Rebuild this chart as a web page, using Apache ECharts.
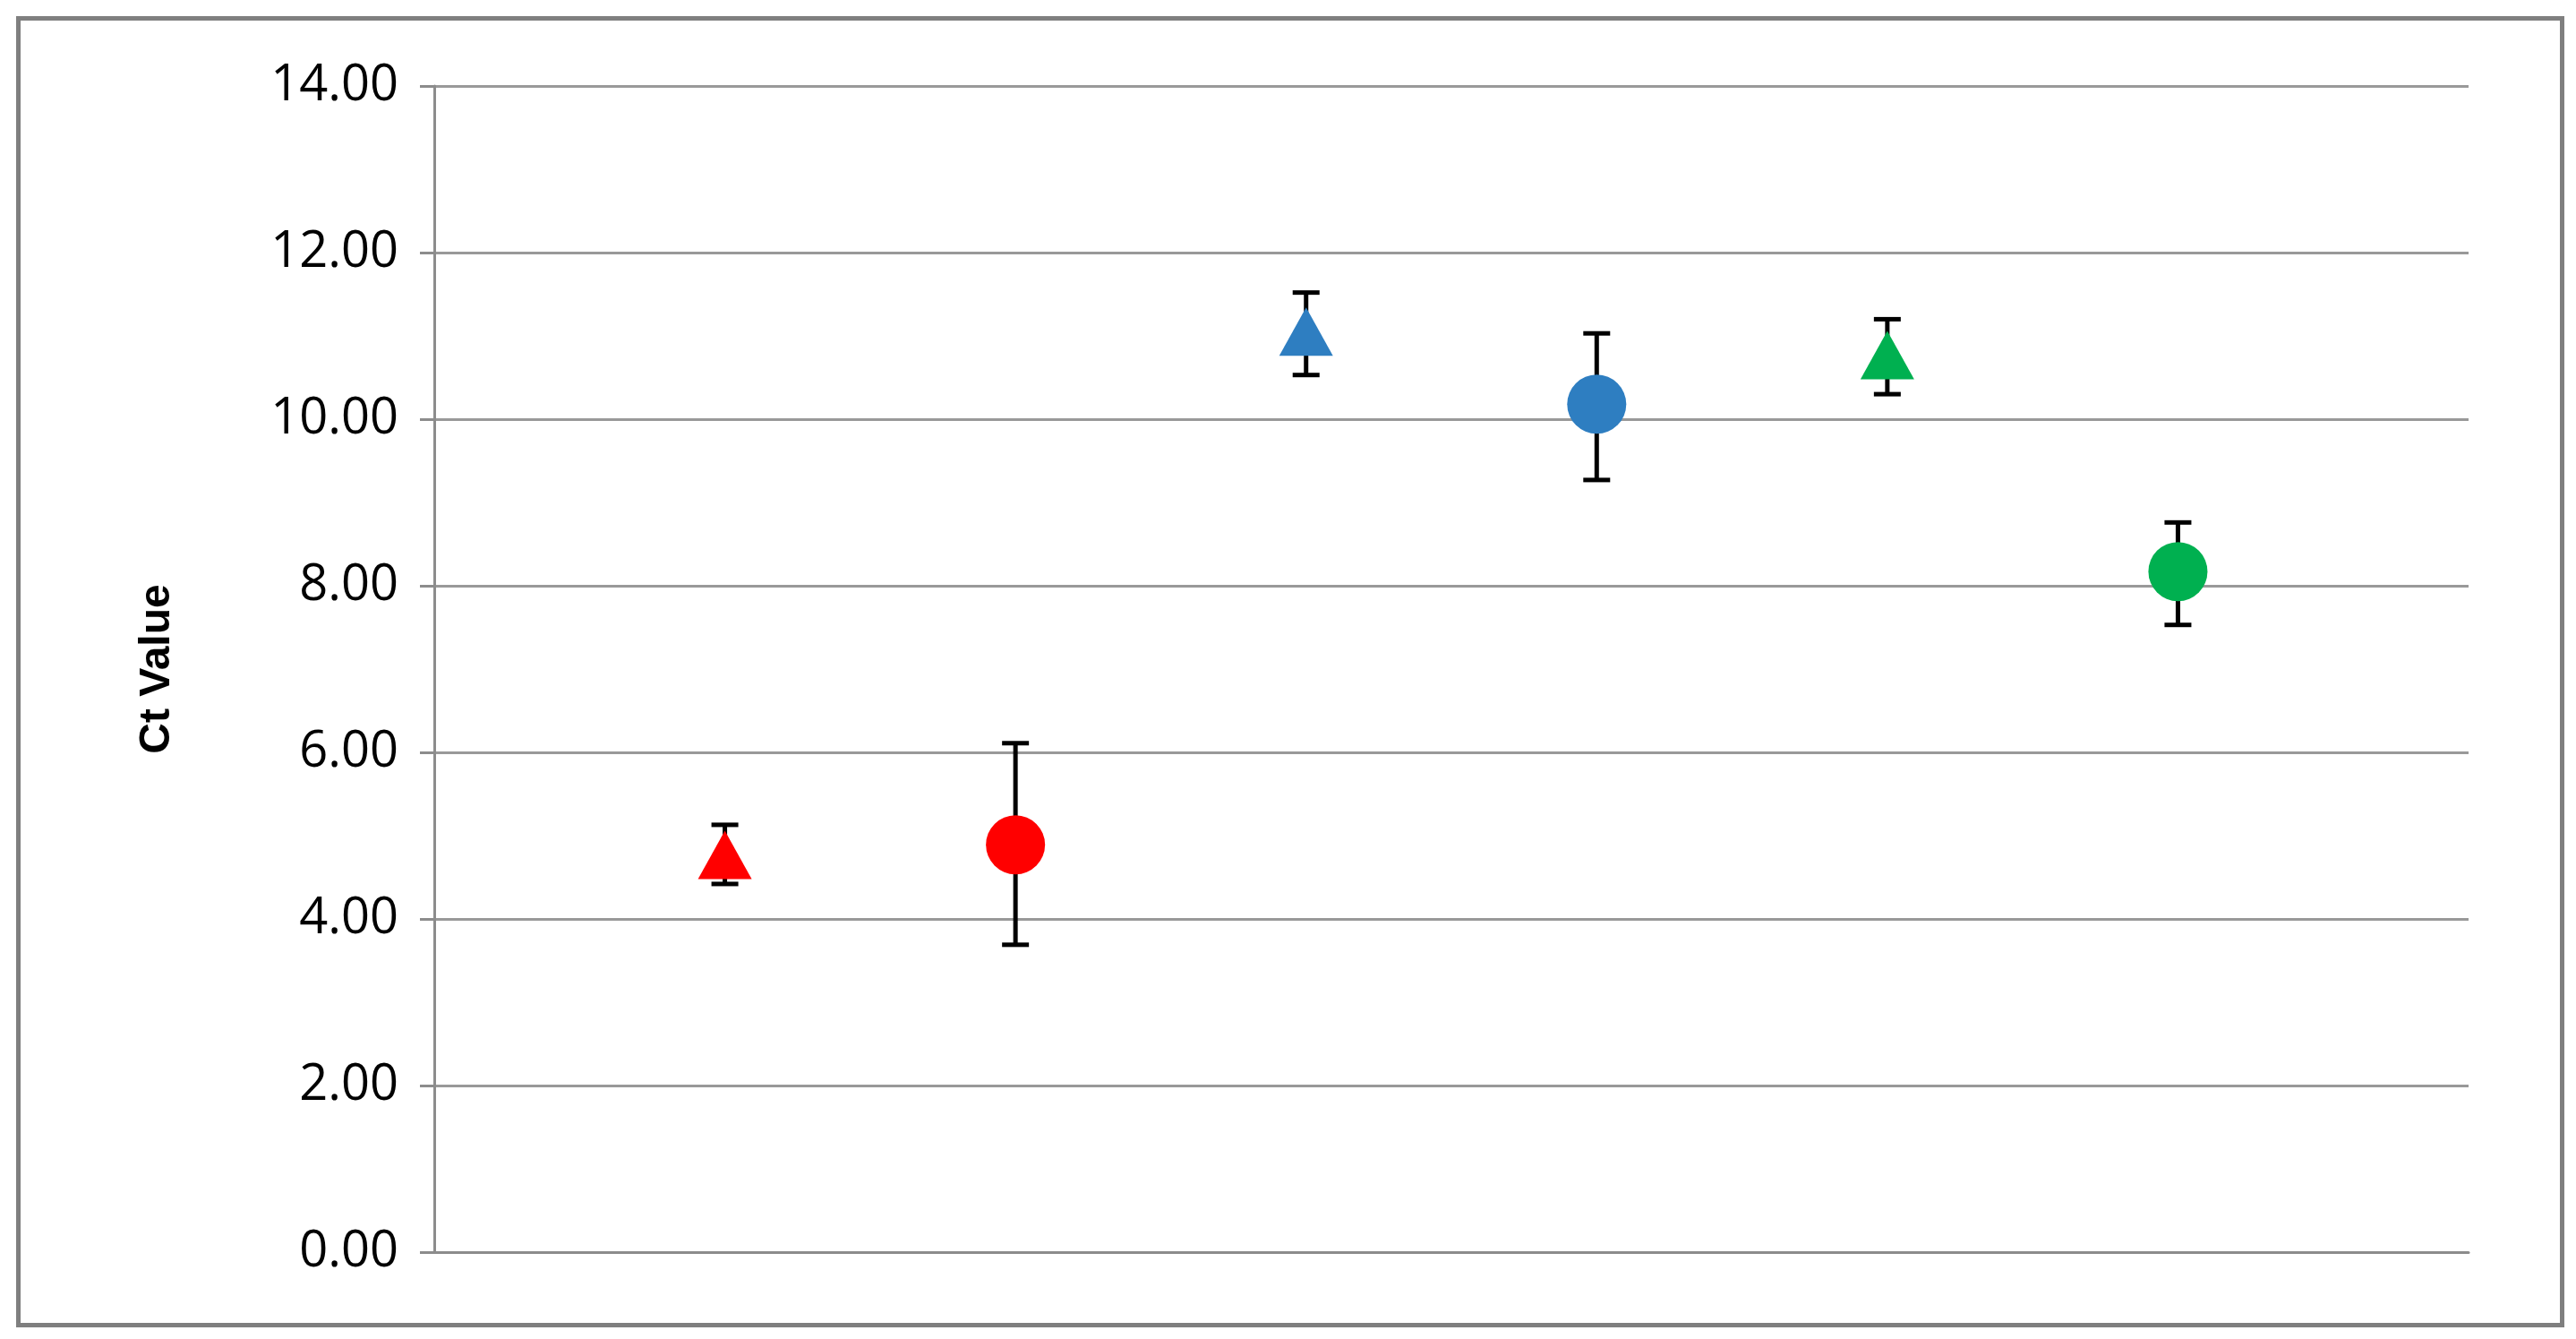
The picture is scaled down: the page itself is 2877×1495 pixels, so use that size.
<!DOCTYPE html>
<html>
<head>
<meta charset="utf-8">
<script src="https://cdn.jsdelivr.net/npm/echarts@6/dist/echarts.min.js"></script>
<style>html,body{margin:0;padding:0;background:#fff}#main{width:2877px;height:1495px}</style>
</head>
<body>
<div id="main"></div>
<script>
// positions along the hidden x axis (slots 1..6)
var xPos = [1, 2, 3, 4, 5, 6];
var ctValues = [4.77, 4.89, 11.05, 10.18, 10.77, 8.17];
var errLow = [4.42, 3.69, 10.53, 9.27, 10.30, 7.53];
var errHigh = [5.13, 6.11, 11.52, 11.03, 11.20, 8.76];
var colors = ['#FF0000', '#FF0000', '#2E7EC1', '#2E7EC1', '#00B050', '#00B050'];
var shapes = ['triangle', 'circle', 'triangle', 'circle', 'triangle', 'circle'];
var yTicks = ['0.00', '2.00', '4.00', '6.00', '8.00', '10.00', '12.00', '14.00'];

var myChart = echarts.init(document.getElementById('main'));

var pointData = xPos.map(function (x, i) {
  return {
    value: [x, ctValues[i]],
    symbol: shapes[i],
    symbolSize: shapes[i] === 'circle' ? 66 : [60, 54],
    itemStyle: { color: colors[i], opacity: 1 }
  };
});
var errData = xPos.map(function (x, i) { return [x, errLow[i], errHigh[i]]; });

var option = {
  animation: false,
  graphic: [{
    type: 'rect', left: 18, top: 18,
    shape: { width: 2841, height: 1459 },
    style: { fill: 'none', stroke: '#7f7f7f', lineWidth: 5 }
  }],
  grid: { left: 485, right: 120, top: 96, bottom: 97 },
  xAxis: {
    type: 'value', min: 0, max: 7,
    axisLine: { show: true, onZero: false, lineStyle: { color: '#8c8c8c', width: 3 } },
    axisTick: { show: false }, axisLabel: { show: false }, splitLine: { show: false }
  },
  yAxis: {
    type: 'value', min: 0, max: 14, interval: 2,
    name: 'Ct Value', nameLocation: 'middle', nameGap: 285,
    nameTextStyle: { fontFamily: 'Liberation Sans', fontWeight: 'bold', fontSize: 48, color: '#000' },
    axisLine: { show: true, lineStyle: { color: '#8c8c8c', width: 3 } },
    axisTick: { show: true, length: 16, lineStyle: { color: '#8c8c8c', width: 3 } },
    axisLabel: {
      fontFamily: 'Open Sans', fontSize: 56, color: '#000', margin: 40,
      formatter: function (v) { return yTicks[v / 2]; }
    },
    splitLine: { lineStyle: { color: '#999999', width: 3 } }
  },
  series: [{
    type: 'custom',
    data: errData,
    z: 1,
    renderItem: function (params, api) {
      var x = api.value(0);
      var lo = api.coord([x, api.value(1)]);
      var hi = api.coord([x, api.value(2)]);
      var w = 15;
      var st = { stroke: '#000', lineWidth: 5 };
      return {
        type: 'group', children: [
          { type: 'line', shape: { x1: lo[0], y1: lo[1], x2: hi[0], y2: hi[1] }, style: st },
          { type: 'line', shape: { x1: lo[0] - w, y1: lo[1], x2: lo[0] + w, y2: lo[1] }, style: st },
          { type: 'line', shape: { x1: hi[0] - w, y1: hi[1], x2: hi[0] + w, y2: hi[1] }, style: st }
        ]
      };
    }
  }, {
    type: 'scatter', z: 3,
    data: pointData
  }]
};
myChart.setOption(option);
</script>
</body>
</html>
